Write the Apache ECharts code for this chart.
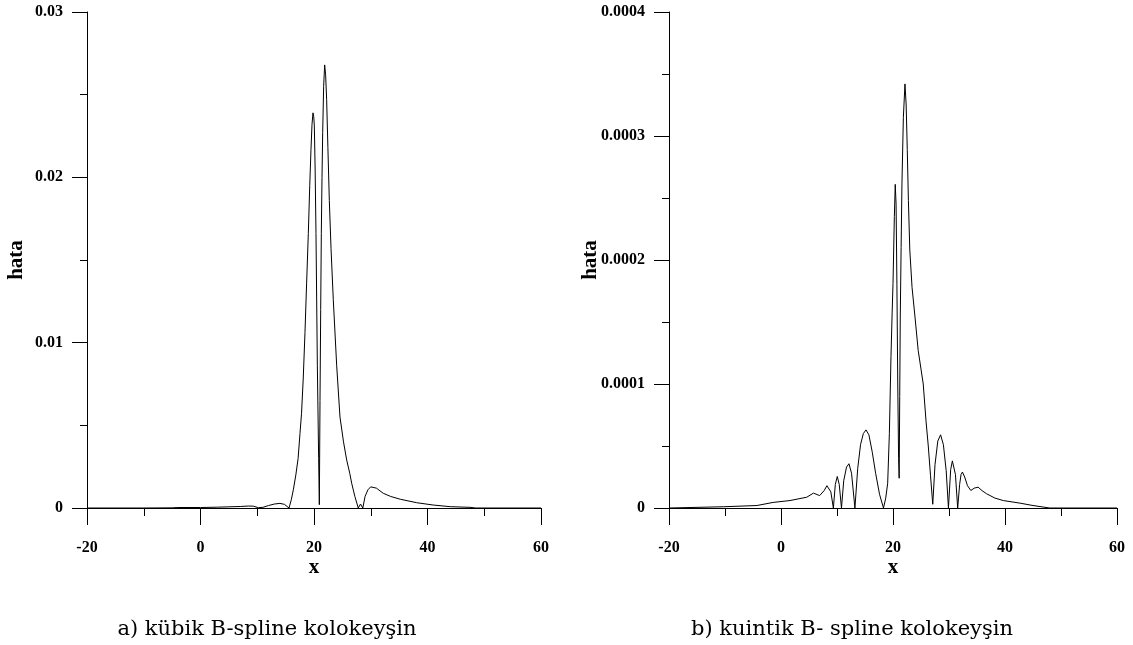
<!DOCTYPE html>
<html>
<head>
<meta charset="utf-8">
<script src="https://cdn.jsdelivr.net/npm/echarts@6/dist/echarts.min.js"></script>
<style>
  html, body { margin: 0; padding: 0; background: #ffffff; }
  #chart { width: 1133px; height: 645px; }
</style>
</head>
<body>
<div id="chart"></div>
<script>
// Error curve of the cubic B-spline collocation solution: [x, hata]
const cubicError = [
  [-20, 0], [-10, 0], [-5, 0.00001], [-4, 0.00003], [0, 0.00003], [3, 0.00005],
  [5, 0.00007], [7, 0.00009], [8.5, 0.00012], [9.3, 0.00011], [10.2, 0.00002],
  [11, 0.00004], [12, 0.00015], [13, 0.00024], [14, 0.00028], [14.8, 0.00022],
  [15.6, 0], [16.0, 0.0005], [16.36, 0.0011], [16.8, 0.0020], [17.2, 0.0030],
  [17.53, 0.0045], [17.8, 0.0057], [18.1, 0.0078], [18.41, 0.0106], [18.7, 0.0136],
  [19.0, 0.0166], [19.25, 0.0195], [19.47, 0.0217], [19.65, 0.0232], [19.82, 0.0239],
  [19.95, 0.0237], [20.06, 0.0231], [20.2, 0.0205], [20.35, 0.0166], [20.59, 0.0086],
  [20.82, 0.0030], [20.94, 0.0002], [21.06, 0.0065], [21.18, 0.0120], [21.29, 0.0166],
  [21.41, 0.0200], [21.53, 0.0227], [21.7, 0.0255], [21.88, 0.0268], [22.05, 0.0262],
  [22.23, 0.0247], [22.45, 0.0218], [22.7, 0.0186], [23.0, 0.0157], [23.4, 0.0126],
  [24.0, 0.0086], [24.58, 0.0055], [25.2, 0.0040], [25.76, 0.0029], [26.3, 0.0021],
  [26.64, 0.0015], [27.2, 0.0007], [27.8, 0], [28.2, 0.00024], [28.6, 0],
  [29.0, 0.0007], [29.5, 0.0011], [30.0, 0.00128], [30.3, 0.00133], [31.0, 0.0012],
  [32.2, 0.00089], [33.5, 0.0007], [35.2, 0.00053], [38.1, 0.00032], [41.0, 0.00018],
  [44.0, 0.00008], [47.5, 0.00004], [48.5, 0], [60, 0]
];

// Error curve of the quintic B-spline collocation solution: [x, hata]
const quinticError = [
  [-20, 0], [-10.3, 0.000001], [-4.3, 0.000002], [-1.4, 0.0000045], [1.6, 0.000006],
  [4.6, 0.0000087], [5.8, 0.000012], [6.9, 0.00001], [7.7, 0.000014], [8.2, 0.000018],
  [8.45, 0.000019], [8.9, 0.000013], [9.35, 0], [9.7, 0.000019], [10.05, 0.0000254],
  [10.4, 0.000019], [10.8, 0], [11.2, 0.000022], [11.7, 0.000033], [12.14, 0.0000357],
  [12.6, 0.000028], [13.2, 0], [13.7, 0.000032], [14.2, 0.000051], [14.7, 0.000060],
  [15.18, 0.000063], [15.7, 0.000059], [16.3, 0.000045], [16.9, 0.000028], [17.6, 0.000011],
  [18.3, 0], [18.7, 0.000008], [19.05, 0.00002], [19.35, 0.00006], [19.64, 0.000122],
  [19.85, 0.000158], [20.0, 0.000181], [20.24, 0.000235], [20.4, 0.000261], [20.55, 0.000245],
  [20.7, 0.00018], [20.85, 0.0001], [21.0, 0.00004], [21.1, 0.000024], [21.2, 0.00009],
  [21.3, 0.000154], [21.45, 0.00021], [21.6, 0.000262], [21.85, 0.000315], [22.14, 0.000342],
  [22.35, 0.000325], [22.55, 0.000289], [22.75, 0.000248], [23.0, 0.000208], [23.4, 0.000178],
  [23.93, 0.000154], [24.5, 0.000127], [25.0, 0.000112], [25.4, 0.0001], [25.9, 0.00007],
  [26.3, 0.00005], [26.7, 0.000026], [27.1, 0.000003], [27.5, 0.000035], [28.0, 0.000054],
  [28.5, 0.000059], [29.0, 0.000051], [29.5, 0.00003], [29.9, 0], [30.3, 0.000031],
  [30.6, 0.000038], [30.8, 0.0000389], [31.15, 0.000027], [31.55, 0], [31.9, 0.000019],
  [32.15, 0.000027], [32.4, 0.000029], [32.8, 0.000025], [33.3, 0.000018], [33.9, 0.0000141],
  [34.5, 0.000016], [35.2, 0.0000168], [35.9, 0.000014], [36.7, 0.0000115], [38.2, 0.000008],
  [39.7, 0.000006], [42.7, 0.0000039], [45, 0.000002], [48, 0], [60, 0]
];

// Axis extents and tick steps for both panels
const xRange = [-20, 60];
const xStep = 20;
const cubicYRange = [0, 0.03];
const cubicYStep = 0.01;
const quinticYRange = [0, 0.0004];
const quinticYStep = 0.0001;

// Texts
const xName = 'x';
const yName = 'hata';
const captions = ['a) kübik B-spline kolokeyşin', 'b) kuintik B- spline kolokeyşin'];

const tickFont = { fontFamily: 'Liberation Serif', fontWeight: 'bold', fontSize: 16, color: '#000' };
const nameFont = { fontFamily: 'Liberation Serif', fontWeight: 'bold', fontSize: 21, color: '#000' };
const captionFont = { fontFamily: 'DejaVu Serif', fontWeight: 'normal', fontSize: 21, color: '#000' };
const lineStyle = { color: '#000', width: 1 };

function xAxisFor(gridIndex) {
  return {
    type: 'value', gridIndex,
    min: xRange[0], max: xRange[1], interval: xStep,
    name: xName, nameLocation: 'middle', nameGap: 49, nameTextStyle: nameFont,
    nameMoveOverlap: false,
    axisLine: { show: true, onZero: false, lineStyle },
    axisTick: { show: true, inside: false, length: 17, lineStyle },
    minorTick: { show: true, splitNumber: 2, length: 8, lineStyle },
    axisLabel: Object.assign({ margin: 32 }, tickFont),
    splitLine: { show: false }
  };
}

function yAxisFor(gridIndex, range, step, gap) {
  return {
    type: 'value', gridIndex,
    min: range[0], max: range[1], interval: step,
    name: yName, nameLocation: 'middle', nameGap: gap, nameRotate: 90, nameTextStyle: nameFont,
    nameMoveOverlap: false,
    axisLine: { show: true, onZero: false, lineStyle },
    axisTick: { show: true, inside: false, length: 15, lineStyle },
    minorTick: { show: true, splitNumber: 2, length: 7, lineStyle },
    axisLabel: Object.assign({ margin: 24, showMinLabel: true, showMaxLabel: true }, tickFont),
    splitLine: { show: false }
  };
}

const chart = echarts.init(document.getElementById('chart'), null, { renderer: 'canvas' });
chart.setOption({
  backgroundColor: '#ffffff',
  animation: false,
  title: [
    { text: captions[0], left: 262, top: 614, textAlign: 'center', textStyle: captionFont },
    { text: captions[1], left: 847, top: 614, textAlign: 'center', textStyle: captionFont }
  ],
  grid: [
    { left: 87, top: 12, width: 454, height: 496 },
    { left: 669, top: 12, width: 448, height: 496 }
  ],
  xAxis: [xAxisFor(0), xAxisFor(1)],
  yAxis: [
    yAxisFor(0, cubicYRange, cubicYStep, 60),
    yAxisFor(1, quinticYRange, quinticYStep, 68)
  ],
  series: [
    { type: 'line', xAxisIndex: 0, yAxisIndex: 0, data: cubicError,
      showSymbol: false, symbol: 'none', lineStyle: { color: '#000', width: 1 } },
    { type: 'line', xAxisIndex: 1, yAxisIndex: 1, data: quinticError,
      showSymbol: false, symbol: 'none', lineStyle: { color: '#000', width: 1 } }
  ]
});
</script>
</body>
</html>
